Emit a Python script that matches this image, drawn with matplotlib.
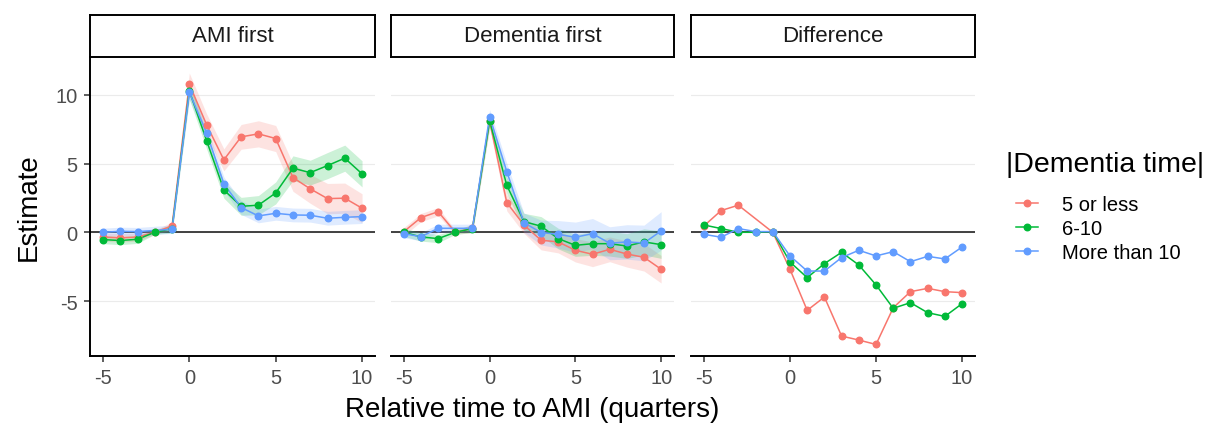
import numpy as np
import matplotlib
matplotlib.use("Agg")
import matplotlib.pyplot as plt
from matplotlib.lines import Line2D

plt.rcParams['font.family'] = ['Liberation Sans', 'DejaVu Sans']
plt.rcParams['axes.unicode_minus'] = False

quarters = np.arange(-5, 11)
group_names = ["5 or less", "6-10", "More than 10"]
group_colors = ["#F8766D", "#00BA38", "#619CFF"]
panel_titles = ["AMI first", "Dementia first", "Difference"]
nan = np.nan

# AMI first
ami_5less = [-0.35, -0.4, -0.35, 0.0, 0.46, 10.78, 7.82, 5.27, 6.94, 7.16, 6.82, 3.98, 3.16, 2.45, 2.48, 1.75]
ami_6to10 = [-0.53, -0.6, -0.51, 0.0, 0.27, 10.29, 6.67, 3.08, 1.89, 1.97, 2.86, 4.66, 4.34, 4.85, 5.39, 4.25]
ami_over10 = [0.0, 0.07, 0.05, nan, 0.22, 10.17, 7.23, 3.52, 1.80, 1.19, 1.38, 1.26, 1.24, 1.02, 1.09, 1.14]
ami_5less_ci = [0.3, 0.3, 0.3, 0.15, 0.3, 0.8, 0.8, 0.8, 0.9, 0.95, 0.95, 1.0, 1.05, 1.1, 1.1, 1.05]
ami_6to10_ci = [0.3, 0.3, 0.3, 0.15, 0.3, 0.6, 0.6, 0.6, 0.65, 0.7, 0.8, 0.9, 0.9, 0.95, 0.95, 0.95]
ami_over10_ci = [0.3, 0.3, 0.3, 0.15, 0.3, 0.5, 0.5, 0.5, 0.5, 0.5, 0.5, 0.5, 0.5, 0.5, 0.5, 0.5]

# Dementia first
dem_5less = [0.05, 1.07, 1.5, 0.0, 0.29, 8.1, 2.16, 0.53, -0.58, -0.7, -1.31, -1.6, -1.24, -1.58, -1.82, -2.69]
dem_6to10 = [0.0, -0.34, -0.46, 0.0, 0.27, 8.1, 3.42, 0.78, 0.44, -0.46, -0.95, -0.83, -0.83, -1.0, -0.7, -0.9]
dem_over10 = [-0.1, -0.32, 0.29, nan, 0.29, 8.42, 4.42, 0.7, -0.02, -0.15, -0.36, -0.1, -0.8, -0.7, -0.78, 0.1]
dem_5less_ci = [0.3, 0.3, 0.3, 0.15, 0.3, 0.5, 0.6, 0.6, 0.7, 0.8, 0.85, 0.9, 0.9, 0.95, 1.0, 1.0]
dem_6to10_ci = [0.3, 0.3, 0.3, 0.15, 0.3, 0.5, 0.6, 0.6, 0.7, 0.75, 0.8, 0.85, 0.9, 0.9, 0.95, 1.0]
dem_over10_ci = [0.3, 0.3, 0.3, 0.15, 0.3, 0.5, 0.6, 0.7, 0.9, 1.0, 1.1, 1.1, 1.2, 1.25, 1.3, 1.4]

# Difference (no intervals)
diff_5less = [0.46, 1.58, 1.97, nan, 0.0, -2.69, -5.68, -4.71, -7.55, -7.84, -8.16, -5.49, -4.32, -4.08, -4.32, -4.39]
diff_6to10 = [0.53, 0.27, 0.0, 0.0, 0.05, -2.16, -3.30, -2.28, -1.46, -2.38, -3.83, -5.53, -5.12, -5.85, -6.12, -5.19]
diff_over10 = [-0.15, -0.36, 0.27, 0.05, 0.05, -1.72, -2.82, -2.82, -1.84, -1.31, -1.72, -1.41, -2.14, -1.75, -1.94, -1.07]

panels = [
    ([ami_5less, ami_6to10, ami_over10], [ami_5less_ci, ami_6to10_ci, ami_over10_ci]),
    ([dem_5less, dem_6to10, dem_over10], [dem_5less_ci, dem_6to10_ci, dem_over10_ci]),
    ([diff_5less, diff_6to10, diff_over10], None),
]

W, H = 1220, 427
fig = plt.figure(figsize=(W / 100, H / 100), dpi=100)

lefts = [90, 391, 691]
widths = [285, 283, 284]
ax_top, ax_bottom = 58, 357
strip_top = 16

for i, (series, cis) in enumerate(panels):
    ax = fig.add_axes([lefts[i] / W, 1 - ax_bottom / H, widths[i] / W, (ax_bottom - ax_top) / H])
    ax.set_xlim(-5.75, 10.75)
    ax.set_ylim(-9.0, 12.75)
    ax.set_yticks([-5, 0, 5, 10])
    ax.set_xticks([-5, 0, 5, 10])
    for y in [-5, 0, 5, 10]:
        ax.axhline(y, color="#EBEBEB", lw=0.8, zorder=0)
    ax.axhline(0, color="#333333", lw=1.3, zorder=1)

    # ribbons under lines, lines under points
    if cis is not None:
        for vals, ci, col in zip(series, cis, group_colors):
            v = np.array(vals, dtype=float)
            c = np.array(ci)
            m = ~np.isnan(v)
            ax.fill_between(quarters[m], v[m] - c[m], v[m] + c[m], color=col, alpha=0.2, lw=0, zorder=2)
    for vals, col in zip(series, group_colors):
        v = np.array(vals, dtype=float)
        m = ~np.isnan(v)
        ax.plot(quarters[m], v[m], color=col, lw=1.1, zorder=3)
    for vals, col in zip(series, group_colors):
        v = np.array(vals, dtype=float)
        m = ~np.isnan(v)
        ax.plot(quarters[m], v[m], ls="none", marker="o", ms=4.7, color=col, mec=col, zorder=4)

    for s in ["top", "right"]:
        ax.spines[s].set_visible(False)
    ax.spines["bottom"].set_linewidth(1.4)
    ax.spines["left"].set_linewidth(1.4)
    ax.tick_params(axis="both", colors="#333333", length=4, width=1.1, labelsize=14.5,
                   labelcolor="#4D4D4D", pad=5)
    if i == 0:
        ax.set_ylabel("Estimate", fontsize=20, labelpad=10)
    else:
        ax.spines["left"].set_visible(False)
        ax.tick_params(axis="y", left=False, labelleft=False)
    if i == 1:
        ax.set_xlabel("Relative time to AMI (quarters)", fontsize=20, labelpad=6)

    # facet strip
    sax = fig.add_axes([lefts[i] / W, 1 - ax_top / H, widths[i] / W, (ax_top - strip_top) / H])
    sax.set_xticks([])
    sax.set_yticks([])
    for s in sax.spines.values():
        s.set_linewidth(1.4)
        s.set_color("black")
    sax.text(0.5, 0.5, panel_titles[i], ha="center", va="center", fontsize=16, color="#1A1A1A",
             transform=sax.transAxes)

# legend: title placed on its own so the gap to the keys can be set
fig.text(1006 / W, 1 - 165 / H, "|Dementia time|", ha="left", va="center", fontsize=20.5)
handles = [Line2D([0], [0], color=c, lw=1.1, marker="o", ms=4.7) for c in group_colors]
leg = fig.legend(handles, group_names, loc="upper left",
                 bbox_to_anchor=(1016 / W, 1 - 196 / H), frameon=False, fontsize=14.5,
                 borderpad=0, borderaxespad=0, handlelength=1.1, handletextpad=1.2,
                 labelspacing=0.25)

fig.savefig("out.png", dpi=100)
